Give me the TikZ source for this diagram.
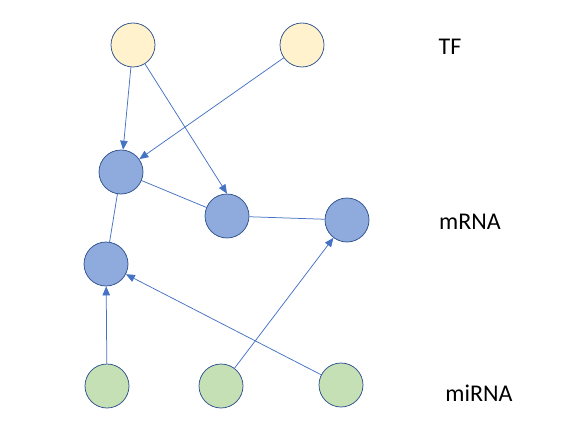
\documentclass[tikz,border=0pt]{standalone}
\usepackage{fontspec}
\setmainfont{Carlito}
\usepackage{xcolor}
\usepackage{tikz}
\usetikzlibrary{arrows.meta,positioning}
\definecolor{lineblue}{HTML}{4472C4}
\definecolor{rimblue}{HTML}{2F528F}
\definecolor{tffill}{HTML}{FFF2CC}
\definecolor{mfill}{HTML}{8FAADC}
\definecolor{mifill}{HTML}{C5E0B4}
\tikzset{gene/.style={draw=rimblue,circle,line width=0.75pt,minimum size=44pt,inner sep=0pt}}
\tikzset{tf/.style={gene,fill=tffill},mrna/.style={gene,fill=mfill},mirna/.style={gene,fill=mifill}}
\tikzset{lbl/.style={font=\fontsize{24}{28}\selectfont}}
\tikzset{link/.style={color=lineblue,line width=0.75pt}}

\begin{document}
\begin{tikzpicture}[x=1pt,y=-1pt,>={Triangle[length=9pt,width=7.5pt]}]
    \useasboundingbox (0,0) rectangle (581,439);
    % TF layer
    \node [tf] (tfa) at (133,45) {};
    \node [tf] (tfb) at (302,45) {};
    % mRNA layer
    \node [mrna] (ma) at (121,172) {};
    \node [mrna] (mb) at (227,216) {};
    \node [mrna] (mc) at (347,220) {};
    \node [mrna] (md) at (106,264) {};
    % miRNA layer
    \node [mirna] (mia) at (107,386) {};
    \node [mirna] (mib) at (221,386) {};
    \node [mirna] (mic) at (341,385) {};
    % labels
    \node [lbl] (ltf) at (450,47) {TF};
    \node [lbl] (lm) at (470,222) {mRNA};
    \node [lbl] (lmi) at (479,393) {miRNA};
    \draw[link,->] (tfa) -- (ma);
    \draw[link,->] (tfa) -- (mb.north);
    \draw[link,->] (tfb) -- (ma);
    \draw[link] (ma) -- (mb);
    \draw[link] (mb) -- (mc);
    \draw[link] (ma) -- (md);
    \draw[link,->] (mia) -- (md);
    \draw[link,->] (mic) -- (md);
    \draw[link,->] (mib) -- (mc);
\end{tikzpicture}
\end{document}
